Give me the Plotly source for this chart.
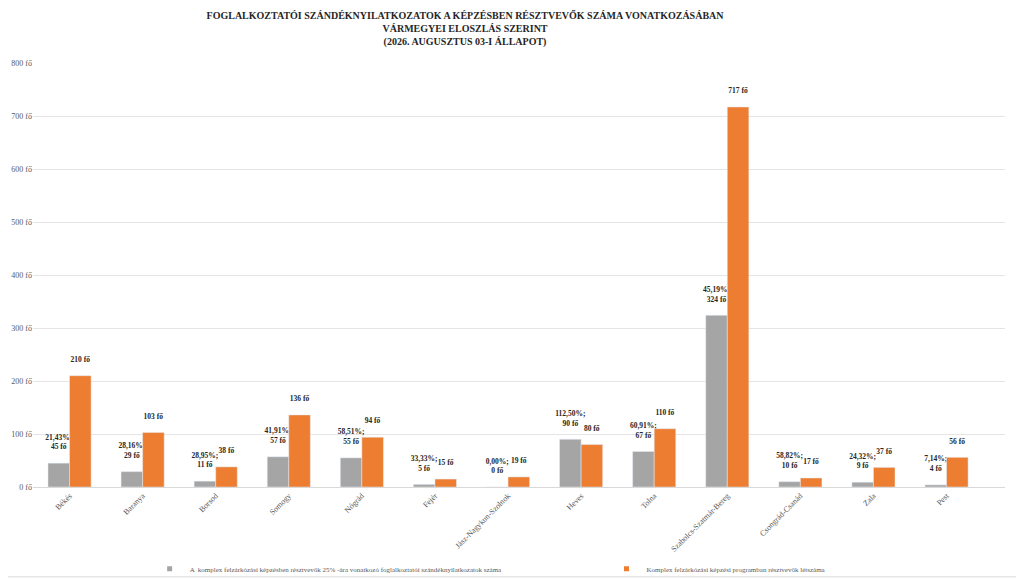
import plotly.graph_objects as go

megyek = ["Békés", "Baranya", "Borsod", "Somogy", "Nógrád", "Fejér",
          "Jász-Nagykun-Szolnok", "Heves", "Tolna", "Szabolcs-Szatmár-Bereg",
          "Csongrád-Csanád", "Zala", "Pest"]
nyilatkozatok = [45, 29, 11, 57, 55, 5, 0, 90, 67, 324, 10, 9, 4]
resztvevok = [210, 103, 38, 136, 94, 15, 19, 80, 110, 717, 17, 37, 56]
aranyok = ["21,43%", "28,16%", "28,95%", "41,91%", "58,51%", "33,33%", "0,00%",
           "112,50%", "60,91%", "45,19%", "58,82%", "24,32%", "7,14%"]

SERIF = "Liberation Serif, Times New Roman, serif"
GRAY = "#A5A5A5"
ORANGE = "#ED7D31"
GAP = "<br><span style='font-size:6px'> </span>"

gray_text = ["<b>" + a + ";<br>" + str(v) + " fő</b>" + GAP for a, v in zip(aranyok, nyilatkozatok)]
orange_text = ["<b>" + str(v) + " fő</b>" + GAP for v in resztvevok]

label_font = dict(family=SERIF, size=7.5, color="#262626")

fig = go.Figure()
fig.add_trace(go.Bar(
    x=megyek, y=nyilatkozatok, marker_color=GRAY, showlegend=False,
    text=gray_text, textposition="outside", cliponaxis=False, constraintext="none",
    textfont=label_font,
))
fig.add_trace(go.Bar(
    x=megyek, y=resztvevok, marker_color=ORANGE, showlegend=False,
    text=orange_text, textposition="outside", cliponaxis=False, constraintext="none",
    textfont=label_font,
))
# legend entries with small square keys
fig.add_trace(go.Scatter(
    x=[None], y=[None], mode="markers",
    marker=dict(symbol="square", size=5, color=GRAY),
    name="A  komplex felzárkózási képzésben résztvevők 25% -ára vonatkozó foglalkoztatói szándéknyilatkozatok száma",
    legend="legend",
))
fig.add_trace(go.Scatter(
    x=[None], y=[None], mode="markers",
    marker=dict(symbol="square", size=5, color=ORANGE),
    name="Komplex felzárkózási képzési programban résztvevők létszáma",
    legend="legend2",
))

legend_font = dict(family=SERIF, size=7, color="#595959")

fig.update_layout(
    width=1010, height=570,
    margin=dict(l=25, r=13, t=55, b=91, autoexpand=False),
    paper_bgcolor="white", plot_bgcolor="white",
    barmode="group", bargap=0.41, bargroupgap=0,
    font=dict(family=SERIF, size=8, color="#595959"),
    showlegend=True,
    title=dict(
        text="<b>FOGLALKOZTATÓI SZÁNDÉKNYILATKOZATOK A KÉPZÉSBEN RÉSZTVEVŐK SZÁMA VONATKOZÁSÁBAN<br>"
             "VÁRMEGYEI ELOSZLÁS SZERINT<br>(2026. AUGUSZTUS 03-I ÁLLAPOT)</b>",
        x=0.4525, xanchor="center", y=0.981, yanchor="top",
        font=dict(family=SERIF, size=10, color="#262626"),
    ),
    xaxis=dict(
        range=[-0.5, 12.8], tickangle=-45, showgrid=False, automargin=False,
        showline=True, linecolor="#D9D9D9", linewidth=1, ticks="",
        tickfont=dict(family=SERIF, size=8, color="#595959"),
    ),
    yaxis=dict(
        range=[0, 800], dtick=100, ticksuffix=" fő", automargin=False,
        showgrid=True, gridcolor="#E5E5E5", gridwidth=1, zeroline=False,
        tickfont=dict(family=SERIF, size=8, color="#595959"),
    ),
    legend=dict(
        orientation="h", x=0.120, y=-0.193, xanchor="left", yanchor="middle",
        itemwidth=30, font=legend_font, bgcolor="rgba(0,0,0,0)",
    ),
    legend2=dict(
        orientation="h", x=0.590, y=-0.193, xanchor="left", yanchor="middle",
        itemwidth=30, font=legend_font, bgcolor="rgba(0,0,0,0)",
    ),
    shapes=[dict(
        type="rect", xref="paper", yref="paper",
        x0=-0.03, x1=1.0123, y0=-0.212, y1=1.2,
        line=dict(color="#D9D9D9", width=1), layer="below",
    )],
)

fig.write_html("out.html")
